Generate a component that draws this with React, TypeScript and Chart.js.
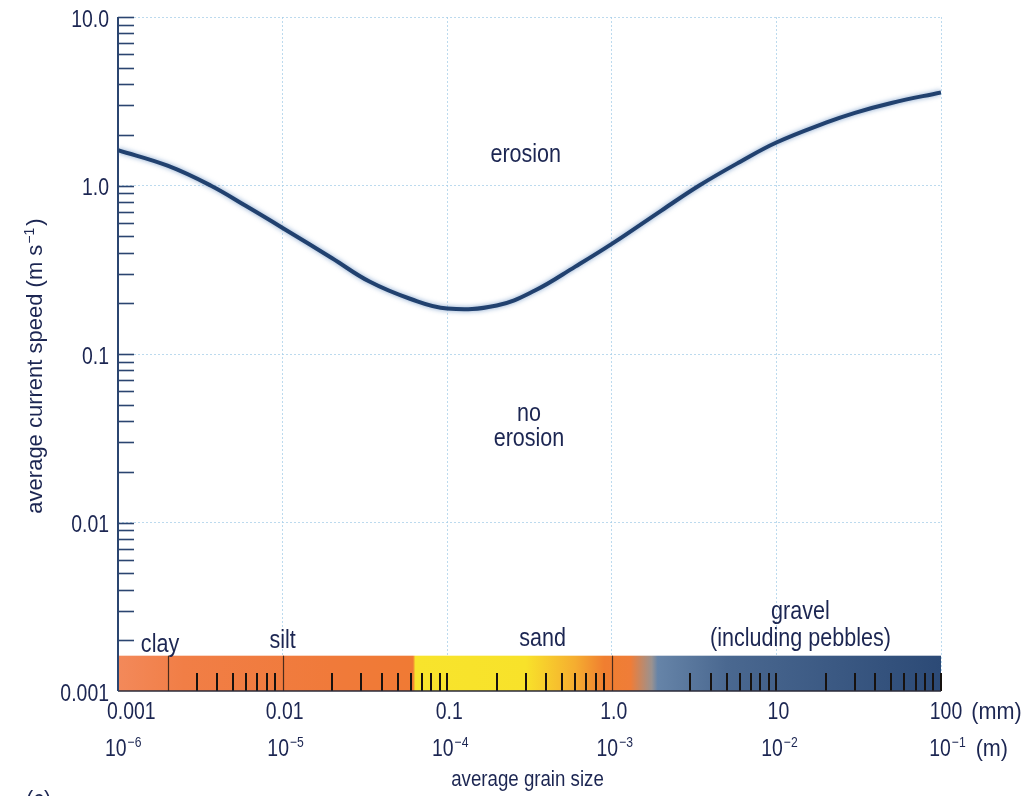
import React, { useEffect, useRef } from 'react';
import { Chart, registerables } from 'chart.js';

Chart.register(...registerables);

// ---- data ----
const grainSizesMm = [0.001, 0.002, 0.00365, 0.006, 0.01, 0.02, 0.0337, 0.06, 0.1, 0.2, 0.341, 0.6, 1, 2, 3.4, 6, 10, 20, 30, 50, 100];
const erosionSpeeds = [1.62, 1.31, 1.0, 0.755, 0.56, 0.37, 0.269, 0.212, 0.186, 0.194, 0.238, 0.33, 0.45, 0.71, 1.0, 1.38, 1.8, 2.36, 2.7, 3.09, 3.57];

const xDecades = [0.001, 0.01, 0.1, 1, 10, 100];
const xLabelsMm = ['0.001', '0.01', '0.1', '1.0', '10', '100'];
const xLabelsMExp = ['\u22126', '\u22125', '\u22124', '\u22123', '\u22122', '\u22121'];
const yDecades = [0.001, 0.01, 0.1, 1, 10];
const yLabels = ['0.001', '0.01', '0.1', '1.0', '10.0'];

const barMinorTicks = [
  0.003, 0.004, 0.005, 0.006, 0.007, 0.008, 0.009,
  0.02, 0.03, 0.04, 0.05, 0.06, 0.07, 0.08, 0.09, 0.1,
  0.2, 0.3, 0.4, 0.5, 0.6, 0.7, 0.8, 0.9,
  3, 4, 5, 6, 7, 8, 9, 10,
  20, 30, 40, 50, 60, 70, 80, 90, 100,
];
const barMajorLines = [0.002, 0.01, 1];
const barTopSpeed = 0.00162;
const barColorStops: [number, string][] = [
  [0.001, '#f3895a'],
  [0.0025, '#f17e46'],
  [0.02, '#f07a3a'],
  [0.062, '#f07a34'],
  [0.064, '#f8e42c'],
  [0.3, '#f8e22a'],
  [0.6, '#f5ad30'],
  [0.9, '#f07e30'],
  [1.3, '#ef7d38'],
  [1.75, '#9a9290'],
  [1.9, '#6684a8'],
  [5, '#4a6890'],
  [100, '#2c4a76'],
];

const regionLabels: { text: string; x: number; y: number }[] = [
  { text: 'clay', x: 0.0018, y: 0.00188 },
  { text: 'silt', x: 0.01, y: 0.00198 },
  { text: 'sand', x: 0.38, y: 0.00204 },
  { text: 'gravel', x: 14, y: 0.00295 },
  { text: '(including pebbles)', x: 14, y: 0.00204 },
  { text: 'erosion', x: 0.3, y: 1.52 },
  { text: 'no', x: 0.314, y: 0.0439 },
  { text: 'erosion', x: 0.314, y: 0.0312 },
];

const FONT = "'Liberation Sans', Arial, sans-serif";
const NAVY = '#1c2652';
const AXIS = '#2b4570';
const GRID = 'rgba(165, 205, 232, 0.75)';
const TICK_SIZE = 24;
const TICK_SX = 0.81;
const LABEL_SIZE = 25.5;
const LABEL_SX = 0.845;

function isDecade(v: number) {
  const l = Math.log10(v);
  return Math.abs(l - Math.round(l)) < 1e-6;
}

function line(ctx: CanvasRenderingContext2D, x1: number, y1: number, x2: number, y2: number) {
  ctx.beginPath();
  ctx.moveTo(x1, y1);
  ctx.lineTo(x2, y2);
  ctx.stroke();
}

function textW(ctx: CanvasRenderingContext2D, text: string, size: number, sx: number) {
  ctx.font = `${size}px ${FONT}`;
  return ctx.measureText(text).width * sx;
}

// condensed text drawing
function ctext(
  ctx: CanvasRenderingContext2D,
  text: string,
  x: number,
  y: number,
  size: number,
  sx: number,
  align: CanvasTextAlign,
  baseline: CanvasTextBaseline,
) {
  ctx.save();
  ctx.font = `${size}px ${FONT}`;
  ctx.textAlign = align;
  ctx.textBaseline = baseline;
  ctx.translate(x, y);
  ctx.scale(sx, 1);
  ctx.fillText(text, 0, 0);
  ctx.restore();
}

// base text then superscript, left aligned at x; returns end x
function drawWithSup(ctx: CanvasRenderingContext2D, base: string, sup: string, x: number, y: number, size: number, sx: number) {
  ctext(ctx, base, x, y, size, sx, 'left', 'alphabetic');
  const bw = textW(ctx, base, size, sx);
  const ss = Math.round(size * 0.62);
  ctext(ctx, sup, x + bw + 1, y - size * 0.38, ss, sx, 'left', 'alphabetic');
  return x + bw + 1 + textW(ctx, sup, ss, sx);
}

function measureWithSup(ctx: CanvasRenderingContext2D, base: string, sup: string, size: number, sx: number) {
  const bw = textW(ctx, base, size, sx);
  const sw = textW(ctx, sup, Math.round(size * 0.62), sx);
  return { bw, total: bw + 1 + sw };
}

const decorPlugin = {
  id: 'decor',
  beforeDatasetsDraw(chart: any) {
    const { ctx, chartArea } = chart;
    const x = chart.scales.x;
    const y = chart.scales.y;
    const x0 = x.getPixelForValue(0.001);
    const x1 = x.getPixelForValue(100);
    const yb = y.getPixelForValue(0.001);
    const yt = y.getPixelForValue(barTopSpeed);
    ctx.save();
    // sediment bar
    const g = ctx.createLinearGradient(x0, 0, x1, 0);
    barColorStops.forEach(([v, c]) => {
      g.addColorStop(Math.min(1, Math.max(0, (x.getPixelForValue(v) - x0) / (x1 - x0))), c);
    });
    ctx.fillStyle = g;
    ctx.fillRect(x0, yt, x1 - x0, yb - yt);
    ctx.strokeStyle = '#4a2c1c';
    ctx.lineWidth = 1.2;
    barMajorLines.forEach((v) => {
      const px = Math.round(x.getPixelForValue(v)) + 0.5;
      line(ctx, px, yt, px, yb);
    });
    ctx.strokeStyle = '#17120f';
    ctx.lineWidth = 2;
    barMinorTicks.forEach((v) => {
      const px = Math.round(x.getPixelForValue(v));
      line(ctx, px, yb - 18, px, yb);
    });
    ctx.strokeStyle = '#2a2a38';
    ctx.lineWidth = 1.5;
    line(ctx, x0, yb, x1, yb);

    // y axis line + inward ticks
    ctx.strokeStyle = AXIS;
    ctx.lineWidth = 2;
    line(ctx, x0, chartArea.top, x0, yb);
    ctx.lineWidth = 1.6;
    for (let d = 0; d < yDecades.length - 1; d++) {
      for (let m = 1; m <= 9; m++) {
        const v = yDecades[d] * m;
        if (v === 0.001) continue;
        const py = Math.round(y.getPixelForValue(v)) + 0.5;
        line(ctx, x0, py, x0 + 16, py);
      }
    }
    const pyTop = Math.round(y.getPixelForValue(10)) + 0.5;
    line(ctx, x0, pyTop, x0 + 16, pyTop);

    // y tick labels
    ctx.fillStyle = NAVY;
    yDecades.forEach((v, i) => {
      ctext(ctx, yLabels[i], x0 - 9, y.getPixelForValue(v) + 3, TICK_SIZE, TICK_SX, 'right', 'middle');
    });

    // region labels
    regionLabels.forEach((l) => {
      ctext(ctx, l.text, x.getPixelForValue(l.x), y.getPixelForValue(l.y), LABEL_SIZE, LABEL_SX, 'center', 'middle');
    });
    ctx.restore();
  },
  beforeDatasetDraw(chart: any) {
    const ctx = chart.ctx;
    ctx.save();
    ctx.shadowColor = 'rgba(60, 110, 175, 0.65)';
    ctx.shadowBlur = 5;
  },
  afterDatasetDraw(chart: any) {
    chart.ctx.restore();
  },
  afterDraw(chart: any) {
    const { ctx, chartArea } = chart;
    const x = chart.scales.x;
    const size = TICK_SIZE;
    const sx = TICK_SX;
    const row1 = chartArea.bottom + 28;
    const row2 = chartArea.bottom + 65;
    ctx.save();
    ctx.fillStyle = NAVY;
    xDecades.forEach((v, i) => {
      const px = x.getPixelForValue(v);
      const w1 = textW(ctx, xLabelsMm[i], size, sx);
      const last = i === xDecades.length - 1;
      if (i === 0) {
        ctext(ctx, xLabelsMm[i], px - 11, row1, size, sx, 'left', 'alphabetic');
      } else if (last) {
        const s = px - w1 / 2 + 5;
        ctext(ctx, xLabelsMm[i], s, row1, size, sx, 'left', 'alphabetic');
        ctext(ctx, '(mm)', s + w1 + 9, row1, size, 0.9, 'left', 'alphabetic');
      } else {
        ctext(ctx, xLabelsMm[i], px + 2, row1, size, sx, 'center', 'alphabetic');
      }
      const m = measureWithSup(ctx, '10', xLabelsMExp[i], size, sx);
      let start: number;
      if (i === 0) start = px - 13;
      else if (last) start = px - m.bw / 2 - 1;
      else start = px + 3 - m.total / 2;
      const end = drawWithSup(ctx, '10', xLabelsMExp[i], start, row2, size, sx);
      if (last) {
        ctext(ctx, '(m)', end + 10, row2, size, 0.9, 'left', 'alphabetic');
      }
    });

    // x-axis title
    ctext(ctx, 'average grain size', (chartArea.left + chartArea.right) / 2 - 2, 780, 22.5, 0.83, 'center', 'middle');

    // y-axis title (rotated)
    const ts = 22;
    ctx.save();
    ctx.translate(34, 366);
    ctx.rotate(-Math.PI / 2);
    const base = 'average current speed (m s';
    const mm = measureWithSup(ctx, base, '\u22121', ts, 1);
    const closeW = textW(ctx, ')', ts, 1);
    const s0 = -(mm.total + 2 + closeW) / 2;
    const e = drawWithSup(ctx, base, '\u22121', s0, ts * 0.36, ts, 1);
    ctext(ctx, ')', e + 2, ts * 0.36, ts, 1, 'left', 'alphabetic');
    ctx.restore();

    // partially visible panel label
    ctext(ctx, '(c)', 26, 788, 24, 0.9, 'left', 'top');
    ctx.restore();
  },
};

export default function App() {
  const canvasRef = useRef<HTMLCanvasElement | null>(null);

  useEffect(() => {
    document.body.style.margin = '0';
    document.body.style.background = '#ffffff';
    const canvas = canvasRef.current;
    if (!canvas) return;
    const chart = new Chart(canvas, {
      type: 'line',
      data: {
        datasets: [
          {
            data: grainSizesMm.map((g, i) => ({ x: g, y: erosionSpeeds[i] })),
            borderColor: '#21416f',
            borderWidth: 4,
            pointRadius: 0,
            tension: 0.4,
            fill: false,
          },
        ],
      },
      options: {
        responsive: false,
        animation: false,
        events: [],
        layout: { padding: { top: 17, right: 1030 - 941, left: 0, bottom: 0 } },
        plugins: { legend: { display: false }, tooltip: { enabled: false } },
        scales: {
          x: {
            type: 'logarithmic',
            min: 0.001,
            max: 100,
            afterBuildTicks: (s: any) => {
              s.ticks = xDecades.map((v) => ({ value: v }));
            },
            afterFit: (s: any) => {
              s.height = 796 - 691;
            },
            ticks: { display: false },
            grid: {
              drawTicks: false,
              color: (c: any) => (c.tick && c.tick.value > 0.001 ? GRID : 'rgba(0,0,0,0)'),
              lineWidth: 1,
            },
            border: { display: false, dash: [2, 2] },
          },
          y: {
            type: 'logarithmic',
            min: 0.001,
            max: 10,
            afterBuildTicks: (s: any) => {
              s.ticks = yDecades.map((v) => ({ value: v }));
            },
            afterFit: (s: any) => {
              s.width = 118;
            },
            ticks: { display: false },
            grid: {
              drawTicks: false,
              color: (c: any) => (c.tick && c.tick.value > 0.001 && isDecade(c.tick.value) ? GRID : 'rgba(0,0,0,0)'),
              lineWidth: 1,
            },
            border: { display: false, dash: [2, 2] },
          },
        },
      },
      plugins: [decorPlugin],
    } as any);
    return () => chart.destroy();
  }, []);

  return (
    <div style={{ width: 1030, height: 796, position: 'relative', background: '#fff' }}>
      <canvas ref={canvasRef} width={1030} height={796} style={{ display: 'block' }} />
    </div>
  );
}
